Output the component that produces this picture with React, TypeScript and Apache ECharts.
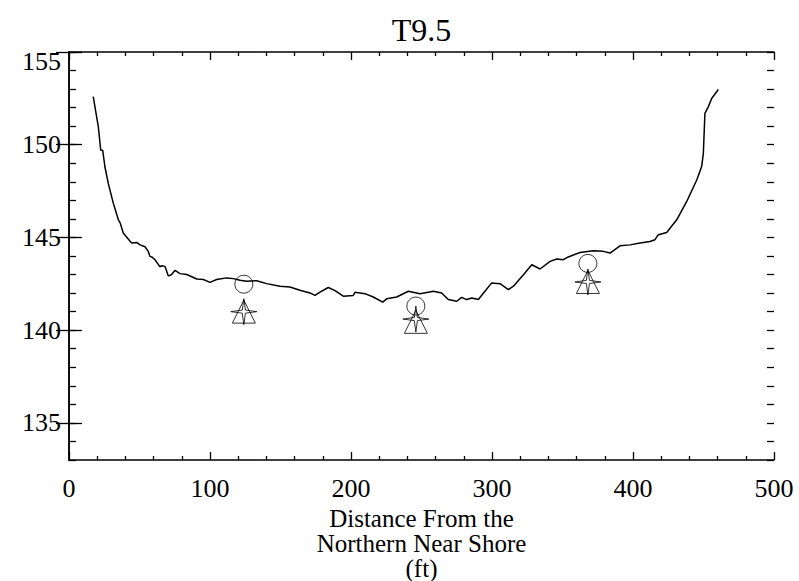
import React, { useEffect, useRef } from "react";
import * as echarts from "echarts";

const TITLE = "T9.5";
const X_NAME = "Distance From the\nNorthern Near Shore\n(ft)";

const distance = [17.2, 19.6, 20.8, 22.5, 23.9, 25.5, 27.9, 31.4, 35.0, 36.2, 38.5, 43.3, 44.5, 48, 50.4, 53.9, 56.2, 57.4, 58.7, 61, 63.3, 64.5, 65.7, 68.1, 70.4, 71.2, 72.8, 75.2, 78.7, 83.5, 90.6, 95.3, 100, 104.7, 111.8, 116.5, 121.3, 126, 133.1, 140.2, 149.6, 156.7, 163.8, 170.9, 174.5, 178, 183.9, 188.7, 194.5, 201.6, 202.8, 209.9, 215.8, 222.5, 225.3, 232.4, 240.7, 249, 258.4, 264.3, 269, 275, 278.5, 282, 285.6, 290.3, 295, 299.8, 305.7, 311.6, 315.2, 322.3, 328.2, 334.1, 341.2, 345.9, 350.6, 354.1, 362.4, 371.8, 378.9, 383.7, 390.8, 397.9, 405, 412, 415.6, 418, 423.9, 431, 438.1, 445.2, 448.7, 449.9, 451, 453.4, 455.8, 460.5];
const elevation = [152.6, 151.5, 150.97, 149.7, 149.7, 148.8, 147.9, 146.85, 145.95, 145.8, 145.24, 144.8, 144.7, 144.73, 144.6, 144.5, 144.25, 143.98, 143.95, 143.8, 143.55, 143.41, 143.48, 143.44, 142.94, 142.94, 143.0, 143.23, 143.05, 143.0, 142.76, 142.73, 142.58, 142.73, 142.82, 142.78, 142.69, 142.64, 142.67, 142.51, 142.37, 142.33, 142.15, 142.01, 141.88, 142.05, 142.3, 142.13, 141.83, 141.87, 142.04, 141.97, 141.79, 141.51, 141.69, 141.79, 142.1, 141.97, 142.1, 142.01, 141.65, 141.56, 141.77, 141.65, 141.74, 141.65, 142.1, 142.55, 142.51, 142.19, 142.37, 142.99, 143.53, 143.3, 143.71, 143.84, 143.8, 143.95, 144.19, 144.28, 144.25, 144.16, 144.55, 144.6, 144.7, 144.78, 144.88, 145.15, 145.27, 145.95, 146.94, 148.1, 148.82, 149.54, 151.69, 152.04, 152.49, 152.98];

const pointX = [124, 246, 368];
const circleY = [142.48, 141.3, 143.6];
const triangleY = [141.0, 140.45, 142.6];
const starY = [141.0, 140.6, 142.6];

const X_MIN = 0, X_MAX = 500, X_STEP = 100;
const Y_MIN = 133, Y_MAX = 155, Y_MINOR_STEP = 1;
const Y_TICKS = [135, 140, 145, 150, 155];

const FONT = "Liberation Serif";
const STAR = "path://M0,-10 L1.2,-1.2 L10,0 L1.2,1.2 L0,10 L-1.2,1.2 L-10,0 L-1.2,-1.2 Z";

export default function App() {
  const ref = useRef<HTMLDivElement>(null);
  useEffect(() => {
    if (!ref.current) return;
    const chart = echarts.init(ref.current, null, { renderer: "svg" });
    const black = "#000";
    const axisLine = { show: true, lineStyle: { color: black, width: 1.5 } };
    const tickStyle = { color: black, width: 1.3 };
    const xCommon = {
      type: "value", min: X_MIN, max: X_MAX, interval: X_STEP,
      splitLine: { show: false },
      axisLine,
      axisTick: { show: true, inside: true, length: 8, lineStyle: tickStyle },
      minorTick: { show: true, splitNumber: 5, length: 4, lineStyle: tickStyle },
      minorSplitLine: { show: false },
    };
    const yMajor = {
      type: "value", min: Y_MIN, max: Y_MAX,
      splitLine: { show: false },
      axisLine,
      axisTick: { show: true, inside: true, length: 13, customValues: Y_TICKS, lineStyle: tickStyle },
    };
    const yMinor = {
      type: "value", min: Y_MIN, max: Y_MAX, interval: Y_MINOR_STEP,
      splitLine: { show: false },
      axisLine: { show: false },
      axisLabel: { show: false },
      axisTick: { show: true, inside: true, length: 7, lineStyle: tickStyle },
    };
    chart.setOption({
      animation: false,
      backgroundColor: "#fff",
      grid: { left: 69, right: 25, top: 52, bottom: 121, containLabel: false, outerBoundsMode: "none" },
      graphic: [
        {
          type: "text",
          style: {
            text: TITLE, x: 421.5, y: 30, textAlign: "center", textVerticalAlign: "middle",
            fontFamily: FONT, fontSize: 32, fill: black,
          },
        },
      ],
      xAxis: [
        {
          ...xCommon,
          position: "bottom",
          axisLabel: { show: true, color: black, fontFamily: FONT, fontSize: 26, margin: 15 },
          name: X_NAME,
          nameLocation: "middle",
          nameGap: 37,
          nameTextStyle: { color: black, fontFamily: FONT, fontSize: 25, lineHeight: 25, verticalAlign: "top" },
        },
        { ...xCommon, position: "top", axisLabel: { show: false } },
      ],
      yAxis: [
        {
          ...yMajor,
          position: "left",
          axisLabel: {
            show: true, color: black, fontFamily: FONT, fontSize: 26, margin: 8,
            customValues: Y_TICKS,
            formatter: (v: number) => (v === Y_MAX ? `{top|${v}}` : String(v)),
            rich: { top: { fontFamily: FONT, fontSize: 26, color: black, padding: [18, 0, 0, 0] } },
          },
        },
        { ...yMajor, position: "right", axisLabel: { show: false } },
        { ...yMinor, position: "right" },
        { ...yMinor, position: "left" },
      ],
      series: [
        {
          type: "line",
          data: distance.map((d, i) => [d, elevation[i]]),
          showSymbol: false,
          symbol: "none",
          lineStyle: { color: black, width: 1.5 },
          silent: true,
        },
        {
          type: "scatter",
          data: pointX.map((d, i) => [d, circleY[i]]),
          symbol: "circle",
          symbolSize: 18,
          itemStyle: { color: "rgba(0,0,0,0)", borderColor: black, borderWidth: 1 },
        },
        {
          type: "scatter",
          data: pointX.map((d, i) => [d, triangleY[i]]),
          symbol: "triangle",
          symbolSize: [23, 23],
          itemStyle: { color: "rgba(0,0,0,0)", borderColor: black, borderWidth: 1 },
        },
        {
          type: "scatter",
          data: pointX.map((d, i) => [d, starY[i]]),
          symbol: STAR,
          symbolSize: [26, 26],
          itemStyle: { color: "rgba(0,0,0,0)", borderColor: black, borderWidth: 1 },
        },
      ],
    });
    return () => chart.dispose();
  }, []);
  return (
    <div
      ref={ref}
      style={{ position: "fixed", left: 0, top: 0, width: 799, height: 581, background: "#fff" }}
    />
  );
}
